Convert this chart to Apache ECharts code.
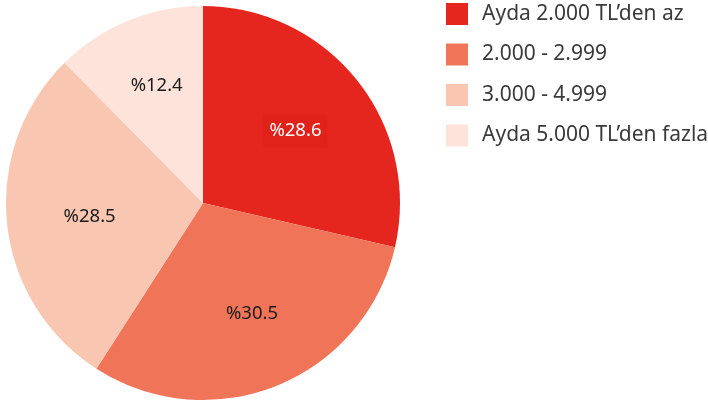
<!DOCTYPE html>
<html>
<head>
<meta charset="utf-8">
<script src="https://cdn.jsdelivr.net/npm/echarts@6/dist/echarts.min.js"></script>
<style>
  html, body { margin: 0; padding: 0; background: #fff; }
  #chart { width: 708px; height: 403px; }
</style>
</head>
<body>
<div id="chart"></div>
<script>
// Income groups and their shares (%)
const categories = ['Ayda 2.000 TL’den az', '2.000 - 2.999', '3.000 - 4.999', 'Ayda 5.000 TL’den fazla'];
const shares = [28.6, 30.5, 28.5, 12.4];
const colors = ['#e5261f', '#f07558', '#f9c6b2', '#fde3da'];
const labelColors = ['#ffffff', '#1a1a1a', '#1a1a1a', '#1a1a1a'];
// small per-label nudges [dx, dy] in px
const labelNudge = [[-3, 4], [3, -2], [8, 1], [0, -4]];

const FONT = '"Noto Sans", "Open Sans", sans-serif';

const chart = echarts.init(document.getElementById('chart'), null, { renderer: 'canvas' });

const pieData = categories.map((name, i) => ({
  name,
  value: shares[i],
  itemStyle: { color: colors[i] }
}));

// Same slices, wider and invisible, used only to place the percentage labels
const labelData = categories.map((name, i) => ({
  name,
  value: shares[i],
  itemStyle: { color: 'rgba(0,0,0,0)' },
  label: i === 0
    ? { color: labelColors[i], backgroundColor: '#e1221b', padding: [8, 6, 6, 6] }
    : { color: labelColors[i] }
}));

chart.setOption({
  animation: false,
  legend: {
    orient: 'vertical',
    left: 446,
    top: 3,
    padding: 0,
    itemWidth: 22,
    itemHeight: 22,
    itemGap: 18.5,
    icon: 'rect',
    data: categories,
    textStyle: {
      fontFamily: FONT,
      fontSize: 21,
      color: '#3a3a3a',
      padding: [0, 0, 0, 9]
    }
  },
  series: [
    {
      type: 'pie',
      center: [203, 203],
      radius: [0, 197],
      startAngle: 90,
      clockwise: true,
      label: { show: false },
      labelLine: { show: false },
      emphasis: { disabled: true },
      data: pieData
    },
    {
      type: 'pie',
      center: [203, 203],
      radius: [0, 238],
      startAngle: 90,
      clockwise: true,
      silent: true,
      legendHoverLink: false,
      label: {
        show: true,
        position: 'inside',
        fontFamily: FONT,
        fontSize: 18.5,
        formatter: p => '%' + p.value.toFixed(1)
      },
      labelLayout: p => ({ dx: labelNudge[p.dataIndex][0], dy: labelNudge[p.dataIndex][1] }),
      labelLine: { show: false },
      emphasis: { disabled: true },
      data: labelData
    }
  ]
});
</script>
</body>
</html>
